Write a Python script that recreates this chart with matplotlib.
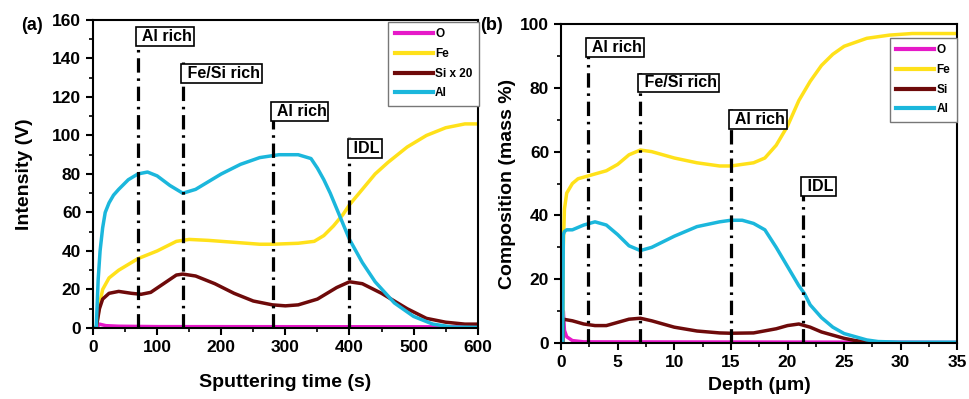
import matplotlib
matplotlib.use("Agg")
import matplotlib.pyplot as plt
from matplotlib.ticker import MultipleLocator

plt.rcParams["font.family"] = ["Liberation Sans", "DejaVu Sans"]
plt.rcParams["font.weight"] = "bold"
plt.rcParams["axes.labelweight"] = "bold"

# colours for the four elements
colors = {"O": "#e619c8", "Fe": "#ffe11a", "Si": "#6e0a0a", "Al": "#1bb7dc"}

# ---- panel (a): intensity vs sputtering time ----
a_al_x = [0, 5, 8, 11, 15, 19, 25, 32, 40, 55, 70, 85, 100, 120, 140, 160, 180, 200, 230, 260, 290, 320, 340, 350, 360, 370, 380, 390, 400, 420, 440, 470, 500, 530, 560, 600]
a_al_y = [0, 0, 25, 40, 52, 60, 65, 69, 72, 77, 80, 81, 79, 74, 70, 72, 76, 80, 85, 88.5, 90, 90, 88, 83, 77, 70, 62, 54, 46, 34, 24, 13, 6, 2, 0.5, 0.3]

a_fe_x = [0, 5, 10, 15, 25, 40, 55, 70, 100, 130, 150, 180, 220, 260, 280, 320, 345, 360, 375, 390, 400, 420, 440, 460, 490, 520, 550, 580, 600]
a_fe_y = [0, 0, 12, 20, 26, 30, 33, 36, 40, 45, 46, 45.5, 44.5, 43.5, 43.5, 44, 45, 48, 53, 59, 64, 72, 80, 86, 94, 100, 104, 106, 106]

a_si_x = [0, 5, 10, 15, 25, 40, 60, 75, 90, 110, 130, 140, 160, 190, 220, 250, 280, 300, 320, 350, 380, 400, 420, 450, 490, 520, 550, 580, 600]
a_si_y = [0, 0, 10, 15, 18, 19, 18, 17.5, 18.5, 23, 27.5, 28, 27, 23, 18, 14, 12, 11.5, 12, 15, 21, 24, 23, 18, 10, 5, 3, 2, 2]

a_o_x = [0, 5, 10, 20, 40, 100, 600]
a_o_y = [0, 0, 2, 1.2, 0.9, 0.7, 0.6]

a_marks = [70, 140, 280, 400]
a_mark_tops = [157, 138, 118, 99]
a_mark_text = ["Al rich", "Fe/Si rich", "Al rich", "IDL"]

# ---- panel (b): composition vs depth ----
b_fe_x = [0.15, 0.2, 0.3, 0.5, 1, 1.5, 2.5, 4, 5, 6, 7, 8, 10, 12, 14, 15, 17, 18, 19, 20, 21, 22, 23, 24, 25, 27, 29, 31, 35]
b_fe_y = [0, 30, 42, 47, 50, 51.5, 52.5, 54, 56, 59, 60.5, 60, 58, 56.5, 55.5, 55.5, 56.5, 58, 62, 68, 76, 82, 87, 90.5, 93, 95.5, 96.5, 97, 97]

b_al_x = [0.15, 0.2, 0.3, 0.5, 1, 2, 3, 4, 5, 6, 7, 8, 10, 12, 14, 15, 16, 17, 18, 19, 20, 21, 21.5, 22, 23, 24, 25, 26, 27, 28, 30, 35]
b_al_y = [0, 34, 35, 35.5, 35.5, 37, 38, 37, 34, 30.5, 29, 30, 33.5, 36.5, 38, 38.5, 38.5, 37.5, 35.5, 30, 24, 18, 15.5, 12, 8, 5, 3, 2, 1, 0.5, 0.3, 0.3]

b_si_x = [0.15, 0.2, 1, 2, 3, 4, 5, 6, 7, 8, 10, 12, 14, 15, 17, 19, 20, 21, 22, 23, 24, 25, 26, 27, 28, 35]
b_si_y = [0, 7.5, 7, 6, 5.5, 5.5, 6.5, 7.5, 7.8, 7, 5, 3.8, 3.2, 3.1, 3.2, 4.5, 5.5, 6, 5, 3.5, 2.5, 1.5, 0.8, 0.4, 0.1, 0]

b_o_x = [0.15, 0.2, 0.3, 0.5, 1, 2, 28, 35]
b_o_y = [0, 10, 4, 2, 0.8, 0.4, 0.3, 0.2]

b_marks = [2.4, 7, 15, 21.4]
b_mark_tops = [96, 85, 73.5, 52.5]
b_mark_text = ["Al rich", "Fe/Si rich", "Al rich", "IDL"]

fig = plt.figure(figsize=(9.69, 3.99), dpi=100)
ax1 = fig.add_axes([0.096, 0.178, 0.397, 0.772])
ax2 = fig.add_axes([0.579, 0.140, 0.409, 0.800])

LW = 2.5


def draw_marks(ax, xs, tops, texts):
    for x, top, txt in zip(xs, tops, texts):
        ax.plot([x, x], [0, top], color="black", lw=2.3, ls=(0, (4.5, 1.8, 0.8, 1.8)), zorder=4)
        ax.text(x, top - (ax.get_ylim()[1] * 0.035), " " + txt, fontsize=11.5, fontweight="bold",
                ha="left", va="center", zorder=5,
                bbox=dict(boxstyle="square,pad=0.12", fc="white", ec="black", lw=1.2))


def style_axes(ax):
    for s in ax.spines.values():
        s.set_linewidth(1.5)
    ax.tick_params(which="major", direction="out", length=5, width=1.5, labelsize=12.5)
    ax.tick_params(which="minor", direction="out", length=3, width=1.2)
    for lbl in ax.get_xticklabels() + ax.get_yticklabels():
        lbl.set_fontweight("bold")


def add_legend(ax, anchor):
    leg = ax.legend(loc="upper right", bbox_to_anchor=anchor, prop={"weight": "bold", "size": 8.5},
                    handlelength=3.2, handletextpad=0.2, labelspacing=0.65, borderpad=0.55,
                    borderaxespad=0.0, fancybox=False, framealpha=1, edgecolor="#777777")
    leg.get_frame().set_linewidth(1.0)
    for h in leg.get_lines():
        h.set_linewidth(3)
    return leg


# panel (a)
ax1.set_xlim(0, 600)
ax1.set_ylim(0, 160)
ax1.plot(a_o_x, a_o_y, color=colors["O"], lw=LW, label="O")
ax1.plot(a_fe_x, a_fe_y, color=colors["Fe"], lw=LW, label="Fe")
ax1.plot(a_si_x, a_si_y, color=colors["Si"], lw=LW, label="Si x 20")
ax1.plot(a_al_x, a_al_y, color=colors["Al"], lw=LW, label="Al")
draw_marks(ax1, a_marks, a_mark_tops, a_mark_text)
ax1.xaxis.set_major_locator(MultipleLocator(100))
ax1.xaxis.set_minor_locator(MultipleLocator(50))
ax1.yaxis.set_major_locator(MultipleLocator(20))
ax1.yaxis.set_minor_locator(MultipleLocator(10))
style_axes(ax1)
ax1.set_xlabel("Sputtering time (s)", fontsize=14, fontweight="bold", labelpad=14)
ax1.set_ylabel("Intensity (V)", fontsize=14, fontweight="bold", labelpad=14)
add_legend(ax1, (1.003, 0.994))
fig.text(0.022, 0.925, "(a)", fontsize=13, fontweight="bold")

# panel (b)
ax2.set_xlim(0, 35)
ax2.set_ylim(0, 100)
ax2.plot(b_o_x, b_o_y, color=colors["O"], lw=LW, label="O")
ax2.plot(b_fe_x, b_fe_y, color=colors["Fe"], lw=LW, label="Fe")
ax2.plot(b_si_x, b_si_y, color=colors["Si"], lw=LW, label="Si")
ax2.plot(b_al_x, b_al_y, color=colors["Al"], lw=LW, label="Al")
draw_marks(ax2, b_marks, b_mark_tops, b_mark_text)
ax2.xaxis.set_major_locator(MultipleLocator(5))
ax2.xaxis.set_minor_locator(MultipleLocator(2.5))
ax2.yaxis.set_major_locator(MultipleLocator(20))
ax2.yaxis.set_minor_locator(MultipleLocator(10))
style_axes(ax2)
ax2.set_xlabel("Depth (\u03bcm)", fontsize=14, fontweight="bold", labelpad=5)
ax2.set_ylabel("Composition (mass %)", fontsize=14, fontweight="bold", labelpad=3)
add_legend(ax2, (0.998, 0.956))
fig.text(0.496, 0.925, "(b)", fontsize=13, fontweight="bold")

fig.savefig("out.png", dpi=100)
